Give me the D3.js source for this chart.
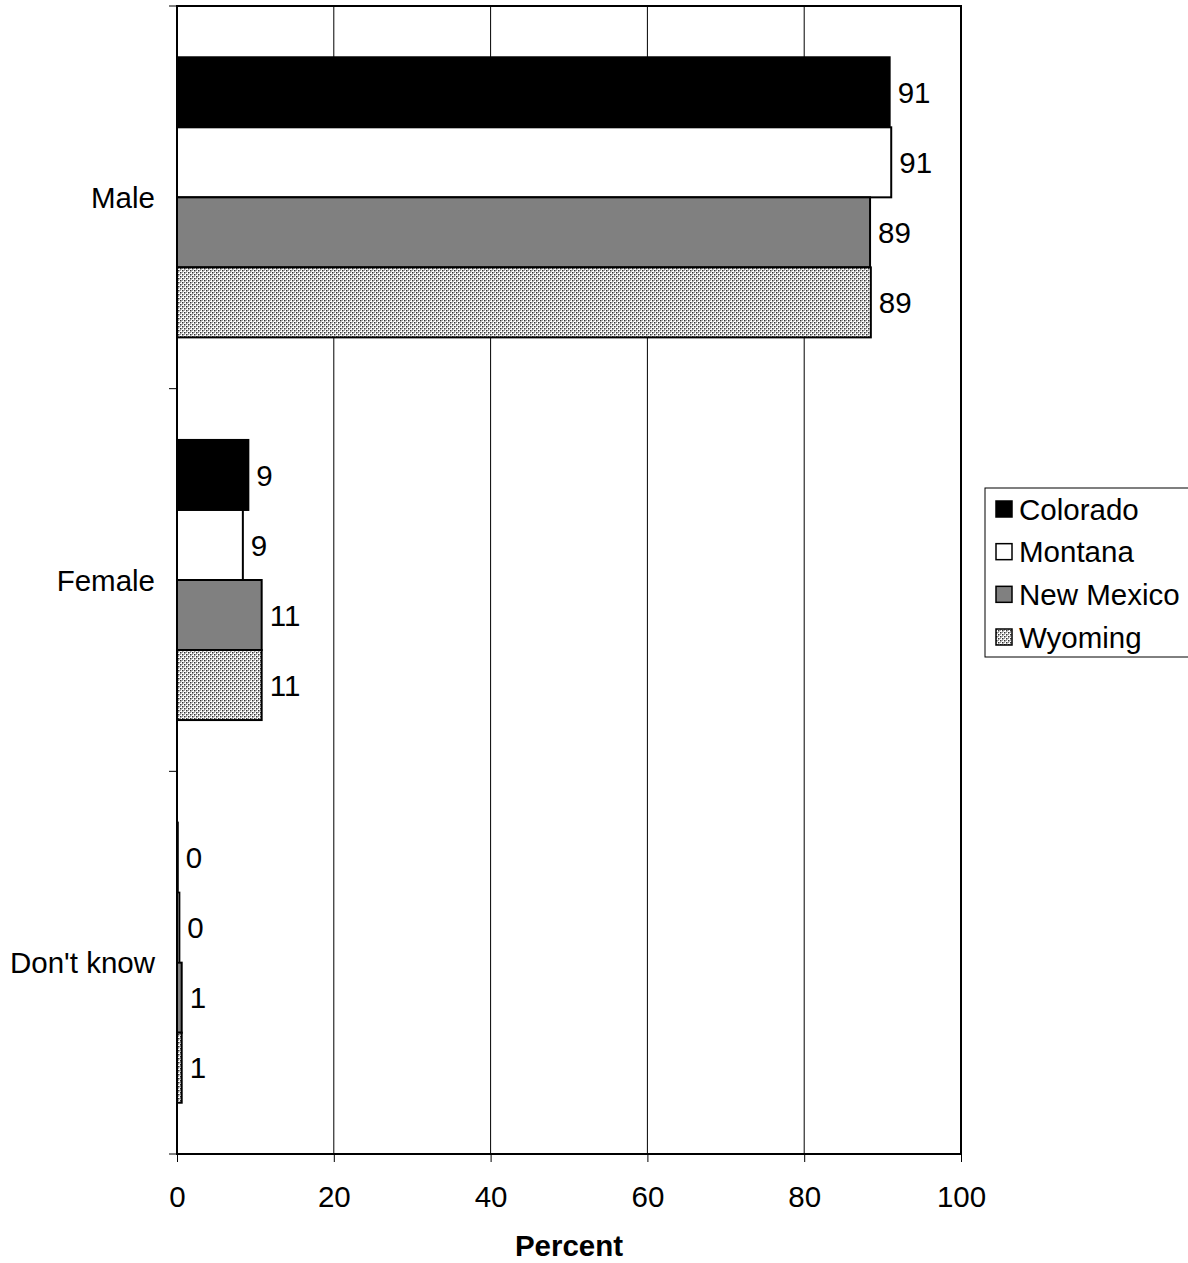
<!DOCTYPE html>
<html><head><meta charset="utf-8">
<script src="https://cdn.jsdelivr.net/npm/d3@7"></script>
<style>body{margin:0;background:#fff}svg{display:block;font-family:Arial,"Liberation Sans",sans-serif}</style>
</head><body>
<script>
const categories = ["Male", "Female", "Don't know"];
const seriesNames = ["Colorado", "Montana", "New Mexico", "Wyoming"];
const colorado = [90.9, 9.1, 0.1];
const montana = [91.1, 8.4, 0.3];
const newMexico = [88.4, 10.8, 0.6];
const wyoming = [88.5, 10.8, 0.6];
const labelsColorado = ["91", "9", "0"];
const labelsMontana = ["91", "9", "0"];
const labelsNewMexico = ["89", "11", "1"];
const labelsWyoming = ["89", "11", "1"];
const xTicks = [0, 20, 40, 60, 80, 100];

const series = [
  {name: seriesNames[0], values: colorado, labels: labelsColorado, fill: "#000"},
  {name: seriesNames[1], values: montana, labels: labelsMontana, fill: "#fff"},
  {name: seriesNames[2], values: newMexico, labels: labelsNewMexico, fill: "#808080"},
  {name: seriesNames[3], values: wyoming, labels: labelsWyoming, fill: "url(#dots)"}
];

const W = 1188, H = 1263;
const L = 177, R = 961, T = 6, B = 1154;
const FS = 29.5;
const svg = d3.select("body").append("svg").attr("width", W).attr("height", H);

const defs = svg.append("defs");
const pat = defs.append("pattern").attr("id", "dots").attr("patternUnits", "userSpaceOnUse")
  .attr("width", 4).attr("height", 4);
pat.append("rect").attr("width", 4).attr("height", 4).attr("fill", "#fff");
pat.append("rect").attr("x", 0).attr("y", 0).attr("width", 1.5).attr("height", 1.5).attr("fill", "#333");
pat.append("rect").attr("x", 2).attr("y", 2).attr("width", 1.5).attr("height", 1.5).attr("fill", "#333");
pat.append("rect").attr("x", 2).attr("y", 0).attr("width", 1).attr("height", 1).attr("fill", "#999");
pat.append("rect").attr("x", 0).attr("y", 2).attr("width", 1).attr("height", 1).attr("fill", "#999");

const x = d3.scaleLinear().domain([0, 100]).range([L, R]);
const y = d3.scaleBand().domain(categories).range([T, B]).paddingInner(0.268).paddingOuter(0.134);
const yInner = d3.scaleBand().domain(seriesNames).range([0, y.bandwidth()]);
const band = d3.scaleBand().domain(categories).range([T, B]);

// gridlines
svg.append("g").selectAll("line").data(xTicks.slice(1, -1)).join("line")
  .attr("x1", d => x(d)).attr("x2", d => x(d)).attr("y1", T).attr("y2", B)
  .attr("stroke", "#000").attr("stroke-width", 1);

// bars
series.forEach(s => {
  const g = svg.append("g");
  g.selectAll("rect").data(categories).join("rect")
    .attr("x", x(0))
    .attr("y", (c) => y(c) + yInner(s.name))
    .attr("width", (c, i) => x(s.values[i]) - x(0))
    .attr("height", yInner.bandwidth())
    .attr("fill", s.fill).attr("stroke", "#000").attr("stroke-width", 2);
  g.selectAll("text").data(categories).join("text")
    .attr("x", (c, i) => x(s.values[i]) + 8)
    .attr("y", (c) => y(c) + yInner(s.name) + yInner.bandwidth() / 2)
    .attr("dy", "0.36em").attr("font-size", FS).text((c, i) => s.labels[i]);
});

// frame
svg.append("rect").attr("x", L).attr("y", T).attr("width", R - L).attr("height", B - T)
  .attr("fill", "none").attr("stroke", "#000").attr("stroke-width", 2);

// y axis ticks (category boundaries)
const yBounds = categories.map(c => band(c)).concat([B]);
svg.append("g").selectAll("line").data(yBounds).join("line")
  .attr("x1", L - 8).attr("x2", L).attr("y1", d => d).attr("y2", d => d)
  .attr("stroke", "#000").attr("stroke-width", 1);
svg.append("g").selectAll("text").data(categories).join("text")
  .attr("x", 155).attr("y", c => band(c) + band.bandwidth() / 2)
  .attr("dy", "0.36em").attr("text-anchor", "end").attr("font-size", FS).text(c => c);

// x axis
const xAxis = d3.axisBottom(x).tickValues(xTicks).tickSize(8).tickPadding(24).tickFormat(d3.format("d"));
const xg = svg.append("g").attr("transform", `translate(0,${B})`).call(xAxis);
xg.select(".domain").remove();
xg.selectAll("line").attr("stroke", "#000");
xg.selectAll("text").attr("font-size", FS).attr("fill", "#000").attr("font-family", "Arial, 'Liberation Sans', sans-serif");

svg.append("text").attr("x", (L + R) / 2).attr("y", 1256).attr("text-anchor", "middle")
  .attr("font-size", FS).attr("font-weight", "bold").text("Percent");

// legend
const lg = svg.append("g");
lg.append("rect").attr("x", 985).attr("y", 488).attr("width", 210).attr("height", 169)
  .attr("fill", "#fff").attr("stroke", "#000").attr("stroke-width", 1);
const ly = d3.scalePoint().domain(seriesNames).range([509, 637]);
series.forEach(s => {
  lg.append("rect").attr("x", 996).attr("y", ly(s.name) - 8).attr("width", 16).attr("height", 16)
    .attr("fill", s.fill).attr("stroke", "#000").attr("stroke-width", 1.5);
  lg.append("text").attr("x", 1019).attr("y", ly(s.name)).attr("dy", "0.36em")
    .attr("font-size", FS).text(s.name);
});
</script>
</body></html>
